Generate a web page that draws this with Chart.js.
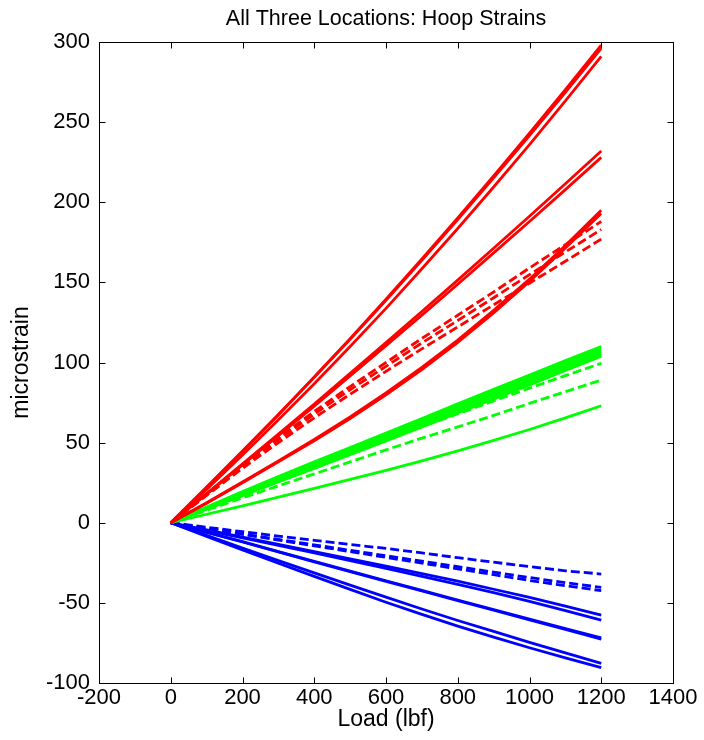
<!DOCTYPE html>
<html>
<head>
<meta charset="utf-8">
<script src="https://cdn.jsdelivr.net/npm/chart.js@4"></script>
<style>
  html, body { margin: 0; padding: 0; background: #fff; }
  #wrap { width: 704px; height: 740px; }
</style>
</head>
<body>
<div id="wrap"><canvas id="c" width="704" height="740"></canvas></div>
<script>
/* global Chart */

// ---------------------------------------------------------------------------
// Data (microstrain at each load step)
// ---------------------------------------------------------------------------

const loads = [0, 100, 200, 300, 400, 500, 600, 700, 800, 900, 1000, 1100, 1200];

const xTicks = [-200, 0, 200, 400, 600, 800, 1000, 1200, 1400];
const yTicks = [-100, -50, 0, 50, 100, 150, 200, 250, 300];

// red, solid
const redTop1 = [0, 21.9, 44.4, 67.3, 90.9, 114.9, 139.5, 164.6, 190.2, 216.4, 243.1, 270.3, 298];
const redTop2 = [0, 22.3, 44.8, 67.5, 90.8, 114.5, 138.8, 163.8, 189.2, 215.2, 241.6, 268.5, 296];
const redTop3 = [0, 20.8, 42.3, 64.2, 86.8, 110, 133.8, 158.5, 183.6, 209.5, 236, 263.3, 291];
const redMid1 = [0, 18.2, 36.7, 55.3, 74.1, 93.2, 112.4, 131.8, 151.4, 171.3, 191.3, 211.5, 232];
const redMid2 = [0, 17.9, 36.1, 54.4, 72.8, 91.6, 110.5, 129.6, 148.8, 168.4, 188, 207.9, 228];
const redLow1 = [0, 12.5, 25.5, 38.5, 52, 66, 81, 97, 114, 132.5, 152, 173, 195];
const redLow2 = [0, 12.2, 25, 38, 51.2, 65, 79.8, 95.5, 112.5, 131, 150.5, 171.5, 193];
// red, dashed
const redDash1 = [0, 18, 36, 53, 69.5, 85, 100, 115, 129.5, 144, 159, 173.5, 188];
const redDash2 = [0, 17.6, 35.2, 51.8, 67.8, 83, 97.6, 112.2, 126.2, 140.4, 154.8, 169, 183];
const redDash3 = [0, 17, 34, 50, 65.5, 80.2, 94.5, 108.5, 122.2, 136, 149.5, 163.2, 177];

// green, solid
const green1 = [0, 9.8, 19.4, 28.8, 38, 47, 56, 65, 74.2, 83.2, 92.2, 101.2, 110];
const green2 = [0, 9.3, 18.6, 27.8, 37, 46, 55, 64, 73, 82, 91, 99.8, 108.5];
const green3 = [0, 9.5, 18.8, 27.8, 36.6, 45.4, 54.2, 63, 71.8, 80.6, 89.4, 98.2, 107];
const green4 = [0, 9, 18, 26.8, 35.6, 44.4, 53.2, 62, 70.8, 79.6, 88.4, 97.2, 106];
const green5 = [0, 8.7, 17.4, 26, 34.7, 43.4, 52.1, 60.8, 69.6, 78.4, 87.2, 96.1, 105];
const green6 = [0, 8.4, 16.9, 25.4, 33.9, 42.5, 51.1, 59.8, 68.5, 77.2, 86, 95, 104];
const greenLow = [0, 5.3, 10.6, 16, 21.4, 27, 32.7, 38.6, 44.8, 51.4, 58.2, 65.4, 73];
// green, dashed
const greenDash1 = [0, 9.2, 18.2, 26.8, 35.3, 43.5, 51.8, 60, 68, 76, 84, 91.8, 99.5];
const greenDash2 = [0, 7.8, 15.5, 23, 30.5, 38, 45.5, 52.8, 59.8, 67, 74.5, 81.8, 89];

// blue, solid
const blue1 = [0, -4.5, -9, -13.5, -18, -22.5, -27, -31.7, -36.5, -41.5, -46.5, -52, -57.6];
const blue2 = [0, -4.7, -9.4, -14.1, -18.8, -23.6, -28.5, -33.4, -38.4, -43.6, -49, -54.8, -60.7];
const blue3 = [0, -6, -12, -18.2, -24.4, -30.5, -36.6, -42.6, -48.6, -54.6, -60.6, -66.6, -72.7];
const blue4 = [0, -5.9, -11.8, -18, -24.1, -30.2, -36.2, -42.2, -48.2, -54.2, -60.1, -66, -71.9];
const blue5 = [0, -7.9, -15.8, -23.6, -31.3, -38.9, -46.4, -53.8, -61, -67.8, -74.6, -81.2, -87.7];
const blue6 = [0, -8.5, -17, -25.3, -33.5, -41.6, -49.6, -57.2, -64.5, -71.4, -78, -84.3, -90.4];
// blue, dashed
const blueDash1 = [0, -2.8, -5.6, -8.3, -11, -13.6, -16, -18.8, -21.8, -24.6, -27.4, -30, -32];
const blueDash2 = [0, -3.5, -7, -10.4, -13.8, -17.2, -20.6, -24, -27.4, -30.8, -34.2, -37.4, -40.3];
const blueDash3 = [0, -3.6, -7.2, -10.8, -14.4, -18, -21.6, -25.2, -28.8, -32.4, -36, -39.3, -42.4];

const TITLE = 'All Three Locations: Hoop Strains';

const RED = '#ff0000', GREEN = '#00ff00', BLUE = '#0000ff';
const FONT = 'Liberation Sans, Arial, sans-serif';

// first entries end up drawn on top
const SERIES = [
    [redTop1, RED, false], [redTop2, RED, false], [redTop3, RED, false],
    [redMid1, RED, false], [redMid2, RED, false],
    [redLow1, RED, false], [redLow2, RED, false],
    [redDash1, RED, true], [redDash2, RED, true], [redDash3, RED, true],
    [green1, GREEN, false], [green2, GREEN, false], [green3, GREEN, false],
    [green4, GREEN, false], [green5, GREEN, false], [green6, GREEN, false],
    [greenLow, GREEN, false],
    [greenDash1, GREEN, true], [greenDash2, GREEN, true],
    [blue1, BLUE, false], [blue2, BLUE, false], [blue3, BLUE, false],
    [blue4, BLUE, false], [blue5, BLUE, false], [blue6, BLUE, false],
    [blueDash1, BLUE, true], [blueDash2, BLUE, true], [blueDash3, BLUE, true],
];

const datasets = SERIES.map(([vals, color, dashed]) => ({
    data:        loads.map((x, i) => ({ x, y: vals[i] })),
    borderColor: color,
    borderWidth: 2.8,
    borderDash:  dashed ? [9, 4] : [],
    pointRadius: 0,
    tension:     0,
    fill:        false,
}));

// ---------------------------------------------------------------------------
// Box + inward tick marks (matlab style), title centred over the axes
// ---------------------------------------------------------------------------

const boxPlugin = {
    id: 'box',
    afterDatasetsDraw(chart) {
        const { ctx, chartArea: a, scales: { x, y } } = chart;
        const L = Math.round(a.left) + 0.5, R = Math.round(a.right) + 0.5;
        const T = Math.round(a.top) + 0.5,  B = Math.round(a.bottom) + 0.5;
        const len = 6;
        ctx.save();
        ctx.strokeStyle = '#000';
        ctx.lineWidth = 1;
        ctx.beginPath();
        xTicks.forEach(v => {
            const px = Math.round(x.getPixelForValue(v)) + 0.5;
            ctx.moveTo(px, B); ctx.lineTo(px, B - len);
            ctx.moveTo(px, T); ctx.lineTo(px, T + len);
        });
        yTicks.forEach(v => {
            const py = Math.round(y.getPixelForValue(v)) + 0.5;
            ctx.moveTo(L, py); ctx.lineTo(L + len, py);
            ctx.moveTo(R, py); ctx.lineTo(R - len, py);
        });
        ctx.stroke();
        ctx.strokeRect(L, T, R - L, B - T);

        // title
        ctx.fillStyle = '#000';
        ctx.font = '21.5px ' + FONT;
        ctx.textAlign = 'center';
        ctx.textBaseline = 'middle';
        ctx.fillText(TITLE, (a.left + a.right) / 2, 19);
        ctx.restore();
    },
};

// ---------------------------------------------------------------------------
// Chart
// ---------------------------------------------------------------------------

const noGrid = { display: false, drawTicks: false, tickLength: 0 };

new Chart(document.getElementById('c').getContext('2d'), {
    type: 'line',
    data: { datasets },
    plugins: [boxPlugin],
    options: {
        responsive: false,
        animation:  false,
        layout:     { padding: { left: 0, right: 31, top: 42, bottom: 0 } },
        plugins: {
            legend:  { display: false },
            tooltip: { enabled: false },
            title:   { display: false },
        },
        scales: {
            x: {
                type: 'linear',
                min: -200, max: 1400,
                afterFit: s => { s.height = 57; },
                afterBuildTicks: s => { s.ticks = xTicks.map(v => ({ value: v })); },
                grid:   noGrid,
                border: { display: false },
                ticks:  { color: '#000', font: { family: FONT, size: 22 }, padding: 2, maxRotation: 0,
                          callback: v => String(v) },
                title:  { display: true, text: 'Load (lbf)', color: '#000',
                          font: { family: FONT, size: 23 }, padding: { top: 0, bottom: 7 } },
            },
            y: {
                type: 'linear',
                min: -100, max: 300,
                afterFit: s => { s.width = 99; },
                afterBuildTicks: s => { s.ticks = yTicks.map(v => ({ value: v })); },
                grid:   noGrid,
                border: { display: false },
                ticks:  { color: '#000', font: { family: FONT, size: 22 }, padding: 9,
                          callback: v => String(v) },
                title:  { display: true, text: 'microstrain', color: '#000',
                          font: { family: FONT, size: 23 }, padding: { top: 8, bottom: 0 } },
            },
        },
    },
});
</script>
</body>
</html>
